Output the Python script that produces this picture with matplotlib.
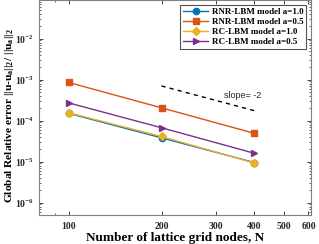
import matplotlib
matplotlib.use("Agg")
import matplotlib.pyplot as plt
from matplotlib.ticker import FixedLocator, NullFormatter, LogLocator, FixedFormatter

plt.rcParams['font.family'] = ['Liberation Serif', 'DejaVu Serif']
plt.rcParams['font.weight'] = 'bold'
plt.rcParams['mathtext.fontset'] = 'custom'
plt.rcParams['mathtext.rm'] = 'Liberation Serif:bold'
plt.rcParams['mathtext.it'] = 'Liberation Serif:bold'
plt.rcParams['mathtext.bf'] = 'Liberation Serif:bold'
plt.rcParams['mathtext.default'] = 'bf'

N = [100, 200, 400]
rnr_a10 = [1.5e-4, 3.8e-5, 9.5e-6]
rnr_a05 = [8.5e-4, 2.05e-4, 4.9e-5]
rc_a10 = [1.55e-4, 4.1e-5, 9.2e-6]
rc_a05 = [2.7e-4, 6.7e-5, 1.6e-5]
slope_x = [200, 400]
slope_y = [7.0e-4, 1.75e-4]
labels = ['RNR-LBM model a=1.0', 'RNR-LBM model a=0.5',
          'RC-LBM model a=1.0', 'RC-LBM model a=0.5']
xticks = [100, 200, 300, 400, 500, 600]

fig = plt.figure(figsize=(3.19, 2.44), dpi=100)
ax = fig.add_axes([0.122, 0.119, 0.852, 0.879])

ax.plot(N, rnr_a10, '-o', color='#0072BD', lw=1.0, ms=4.5, label=labels[0])
ax.plot(N, rnr_a05, '-s', color='#D95319', lw=1.0, ms=4.5, label=labels[1])
ax.plot(N, rc_a10, '-D', color='#EDB120', lw=1.0, ms=4, label=labels[2])
ax.plot(N, rc_a05, '->', color='#7E2F8E', lw=1.0, ms=5, label=labels[3])
ax.plot(slope_x, slope_y, '--', color='black', lw=1.0, dashes=(3, 3))
ax.text(318, 3.6e-4, 'slope= -2', fontsize=6.5, family='Liberation Sans',
        weight='normal', va='baseline', ha='left', color='#262626')

ax.set_xscale('log')
ax.set_yscale('log')
ax.set_xlim(80, 610)
ax.set_ylim(5e-7, 8.5e-2)
ax.xaxis.set_major_locator(FixedLocator(xticks))
ax.xaxis.set_major_formatter(FixedFormatter([str(t) for t in xticks]))
ax.xaxis.set_minor_locator(LogLocator(base=10, subs=range(1, 10), numticks=20))
ax.xaxis.set_minor_formatter(NullFormatter())
ax.yaxis.set_major_locator(LogLocator(base=10, numticks=20))
ax.yaxis.set_minor_locator(LogLocator(base=10, subs=range(2, 10), numticks=20))
ax.yaxis.set_minor_formatter(NullFormatter())

ax.tick_params(which='both', direction='in', top=True, right=True, labelsize=7, colors='#262626')
ax.tick_params(which='major', length=3, width=0.6)
ax.tick_params(which='minor', length=1.5, width=0.5)
ax.tick_params(axis='x', pad=5)
for sp in ax.spines.values():
    sp.set_color('#808080')
    sp.set_linewidth(0.8)

ax.set_xlabel('Number of lattice grid nodes, N', fontsize=9.5, weight='bold', labelpad=1)
ax.set_ylabel(r'Global Relative error $||u$-$u_a||_2/\ ||u_a||_2$', fontsize=8.2,
              weight='bold')
ax.yaxis.set_label_coords(-0.083, 0.465)

leg = ax.legend(loc='upper right', fontsize=6.5, frameon=True, fancybox=False,
                edgecolor='#262626', borderpad=0.3, labelspacing=0.2, handlelength=2.8,
                handletextpad=0.4, borderaxespad=0.5)
leg.get_frame().set_linewidth(0.8)

fig.savefig('out.png', dpi=100)
